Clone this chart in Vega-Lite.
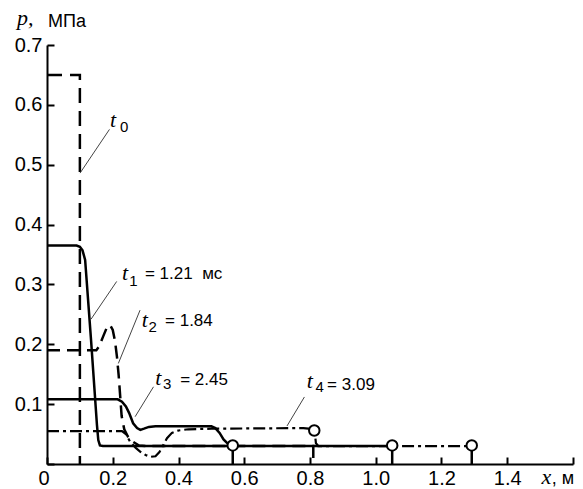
{
  "$schema": "https://vega.github.io/schema/vega-lite/v6.json",
  "width": 526,
  "height": 419,
  "autosize": {"type": "none"},
  "padding": {"left": 47, "top": 45, "right": 10, "bottom": 25},
  "background": "white",
  "config": {
    "view": {"stroke": null},
    "axis": {"grid": false, "domainColor": "black", "domainWidth": 2, "tickColor": "black", "tickWidth": 2, "labelColor": "black", "labelFont": "Liberation Sans", "labelFontSize": 20, "title": null}
  },
  "datasets": {
    "curves": [
      {"s": "t0", "i": 0, "x": 0, "p": 0.65}, {"s": "t0", "i": 1, "x": 0.1, "p": 0.65}, {"s": "t0", "i": 2, "x": 0.1, "p": 0},
      {"s": "t1", "i": 0, "x": 0, "p": 0.365}, {"s": "t1", "i": 1, "x": 0.09, "p": 0.365}, {"s": "t1", "i": 2, "x": 0.1, "p": 0.363}, {"s": "t1", "i": 3, "x": 0.108, "p": 0.357}, {"s": "t1", "i": 4, "x": 0.116, "p": 0.341}, {"s": "t1", "i": 5, "x": 0.134, "p": 0.207}, {"s": "t1", "i": 6, "x": 0.152, "p": 0.065}, {"s": "t1", "i": 7, "x": 0.156, "p": 0.04}, {"s": "t1", "i": 8, "x": 0.161, "p": 0.031}, {"s": "t1", "i": 9, "x": 0.17, "p": 0.03}, {"s": "t1", "i": 10, "x": 0.565, "p": 0.03},
      {"s": "t2", "i": 0, "x": 0, "p": 0.19}, {"s": "t2", "i": 1, "x": 0.15, "p": 0.19}, {"s": "t2", "i": 2, "x": 0.158, "p": 0.196}, {"s": "t2", "i": 3, "x": 0.17, "p": 0.212}, {"s": "t2", "i": 4, "x": 0.182, "p": 0.228}, {"s": "t2", "i": 5, "x": 0.192, "p": 0.232}, {"s": "t2", "i": 6, "x": 0.2, "p": 0.224}, {"s": "t2", "i": 7, "x": 0.207, "p": 0.205}, {"s": "t2", "i": 8, "x": 0.213, "p": 0.178}, {"s": "t2", "i": 9, "x": 0.218, "p": 0.148}, {"s": "t2", "i": 10, "x": 0.222, "p": 0.118}, {"s": "t2", "i": 11, "x": 0.227, "p": 0.08}, {"s": "t2", "i": 12, "x": 0.235, "p": 0.058}, {"s": "t2", "i": 13, "x": 0.246, "p": 0.046}, {"s": "t2", "i": 14, "x": 0.262, "p": 0.037}, {"s": "t2", "i": 15, "x": 0.28, "p": 0.031}, {"s": "t2", "i": 16, "x": 0.3, "p": 0.03}, {"s": "t2", "i": 17, "x": 0.81, "p": 0.03}, {"s": "t2", "i": 18, "x": 0.81, "p": 0},
      {"s": "t3", "i": 0, "x": 0, "p": 0.108}, {"s": "t3", "i": 1, "x": 0.215, "p": 0.108}, {"s": "t3", "i": 2, "x": 0.228, "p": 0.104}, {"s": "t3", "i": 3, "x": 0.24, "p": 0.096}, {"s": "t3", "i": 4, "x": 0.25, "p": 0.085}, {"s": "t3", "i": 5, "x": 0.262, "p": 0.068}, {"s": "t3", "i": 6, "x": 0.274, "p": 0.06}, {"s": "t3", "i": 7, "x": 0.284, "p": 0.057}, {"s": "t3", "i": 8, "x": 0.295, "p": 0.059}, {"s": "t3", "i": 9, "x": 0.31, "p": 0.062}, {"s": "t3", "i": 10, "x": 0.33, "p": 0.063}, {"s": "t3", "i": 11, "x": 0.5, "p": 0.063}, {"s": "t3", "i": 12, "x": 0.512, "p": 0.06}, {"s": "t3", "i": 13, "x": 0.525, "p": 0.052}, {"s": "t3", "i": 14, "x": 0.537, "p": 0.041}, {"s": "t3", "i": 15, "x": 0.55, "p": 0.034}, {"s": "t3", "i": 16, "x": 0.565, "p": 0.031}, {"s": "t3", "i": 17, "x": 0.58, "p": 0.03}, {"s": "t3", "i": 18, "x": 1.05, "p": 0.03},
      {"s": "t4", "i": 0, "x": 0, "p": 0.055}, {"s": "t4", "i": 1, "x": 0.228, "p": 0.055}, {"s": "t4", "i": 2, "x": 0.24, "p": 0.05}, {"s": "t4", "i": 3, "x": 0.253, "p": 0.037}, {"s": "t4", "i": 4, "x": 0.27, "p": 0.027}, {"s": "t4", "i": 5, "x": 0.285, "p": 0.02}, {"s": "t4", "i": 6, "x": 0.3, "p": 0.015}, {"s": "t4", "i": 7, "x": 0.315, "p": 0.012}, {"s": "t4", "i": 8, "x": 0.33, "p": 0.013}, {"s": "t4", "i": 9, "x": 0.342, "p": 0.02}, {"s": "t4", "i": 10, "x": 0.352, "p": 0.03}, {"s": "t4", "i": 11, "x": 0.365, "p": 0.043}, {"s": "t4", "i": 12, "x": 0.38, "p": 0.052}, {"s": "t4", "i": 13, "x": 0.4, "p": 0.056}, {"s": "t4", "i": 14, "x": 0.43, "p": 0.058}, {"s": "t4", "i": 15, "x": 0.5, "p": 0.059}, {"s": "t4", "i": 16, "x": 0.78, "p": 0.06}, {"s": "t4", "i": 17, "x": 0.795, "p": 0.059}, {"s": "t4", "i": 18, "x": 0.806, "p": 0.057}, {"s": "t4", "i": 19, "x": 0.813, "p": 0.054}, {"s": "t4", "i": 20, "x": 0.816, "p": 0.045}, {"s": "t4", "i": 21, "x": 0.818, "p": 0.035}, {"s": "t4", "i": 22, "x": 0.825, "p": 0.03}, {"s": "t4", "i": 23, "x": 1.292, "p": 0.03}
    ],
    "fronts": [
      {"x": 0.565, "p0": 0, "p1": 0.031}, {"x": 1.05, "p0": 0, "p1": 0.031}, {"x": 1.292, "p0": 0, "p1": 0.031}
    ],
    "circles": [
      {"x": 0.565, "p": 0.031}, {"x": 0.813, "p": 0.056}, {"x": 1.05, "p": 0.031}, {"x": 1.292, "p": 0.031}
    ],
    "leaders": [
      {"x": 0.1005, "p": 0.486, "x2": 0.19, "p2": 0.559},
      {"x": 0.134, "p": 0.242, "x2": 0.212, "p2": 0.305},
      {"x": 0.217, "p": 0.168, "x2": 0.283, "p2": 0.257},
      {"x": 0.268, "p": 0.079, "x2": 0.324, "p2": 0.129},
      {"x": 0.73, "p": 0.0635, "x2": 0.783, "p2": 0.112}
    ],
    "notes": [
      {"k": "it", "x": 0.192, "p": 0.563, "text": "t"},
      {"k": "it", "x": 0.228, "p": 0.307, "text": "t"},
      {"k": "it", "x": 0.288, "p": 0.229, "text": "t"},
      {"k": "it", "x": 0.329, "p": 0.132, "text": "t"},
      {"k": "it", "x": 0.79, "p": 0.127, "text": "t"},
      {"k": "sub", "x": 0.222, "p": 0.555, "text": "0"},
      {"k": "sub", "x": 0.25, "p": 0.297, "text": "1"},
      {"k": "sub", "x": 0.309, "p": 0.22, "text": "2"},
      {"k": "sub", "x": 0.353, "p": 0.125, "text": "3"},
      {"k": "sub", "x": 0.817, "p": 0.12, "text": "4"},
      {"k": "val", "x": 0.298, "p": 0.309, "text": "= 1.21\u00a0\u00a0мс"},
      {"k": "val", "x": 0.359, "p": 0.2305, "text": "= 1.84"},
      {"k": "val", "x": 0.405, "p": 0.132, "text": "= 2.45"},
      {"k": "val", "x": 0.852, "p": 0.124, "text": "= 3.09"},
      {"k": "axit", "x": -0.091, "p": 0.733, "text": "p,"},
      {"k": "axit", "x": 1.504, "p": -0.034, "text": "x"},
      {"k": "ax", "x": 0.003, "p": 0.73, "text": "МПа"},
      {"k": "ax", "x": 1.535, "p": -0.034, "text": ", м"}
    ]
  },
  "layer": [
    {
      "data": {"name": "curves"},
      "transform": [{"filter": "datum.s === 't0'"}],
      "mark": {"type": "line", "color": "black", "strokeWidth": 2.5, "strokeDash": [15, 8]},
      "encoding": {
        "x": {"field": "x", "type": "quantitative", "scale": {"domain": [0, 1.6], "nice": false, "zero": false},
          "axis": {"values": [0, 0.2, 0.4, 0.6, 0.8, 1.0, 1.2, 1.4, 1.6], "tickSize": -7, "labelPadding": 11,
            "labelExpr": "datum.value == 1.6 ? '' : (datum.value == 0 ? '0' : format(datum.value, '.1f'))",
            "labelOffset": {"condition": {"test": "datum.value === 0", "value": -9}, "value": 0}}},
        "y": {"field": "p", "type": "quantitative", "scale": {"domain": [0, 0.7], "nice": false, "zero": false},
          "axis": {"values": [0, 0.1, 0.2, 0.3, 0.4, 0.5, 0.6, 0.7], "tickSize": -7, "labelPadding": 12,
            "labelExpr": "datum.value == 0 ? '' : format(datum.value, '.1f')"}},
        "order": {"field": "i", "type": "quantitative"}
      }
    },
    {
      "data": {"name": "curves"},
      "transform": [{"filter": "datum.s === 't1'"}],
      "mark": {"type": "line", "color": "black", "strokeWidth": 2.5},
      "encoding": {
        "x": {"field": "x", "type": "quantitative", "scale": {"domain": [0, 1.6]}},
        "y": {"field": "p", "type": "quantitative", "scale": {"domain": [0, 0.7]}},
        "order": {"field": "i", "type": "quantitative"}
      }
    },
    {
      "data": {"name": "curves"},
      "transform": [{"filter": "datum.s === 't2'"}],
      "mark": {"type": "line", "color": "black", "strokeWidth": 2.5, "strokeDash": [13, 7]},
      "encoding": {
        "x": {"field": "x", "type": "quantitative", "scale": {"domain": [0, 1.6]}},
        "y": {"field": "p", "type": "quantitative", "scale": {"domain": [0, 0.7]}},
        "order": {"field": "i", "type": "quantitative"}
      }
    },
    {
      "data": {"name": "curves"},
      "transform": [{"filter": "datum.s === 't3'"}],
      "mark": {"type": "line", "color": "black", "strokeWidth": 2.5},
      "encoding": {
        "x": {"field": "x", "type": "quantitative", "scale": {"domain": [0, 1.6]}},
        "y": {"field": "p", "type": "quantitative", "scale": {"domain": [0, 0.7]}},
        "order": {"field": "i", "type": "quantitative"}
      }
    },
    {
      "data": {"name": "curves"},
      "transform": [{"filter": "datum.s === 't4'"}],
      "mark": {"type": "line", "color": "black", "strokeWidth": 2.2, "strokeDash": [12, 4, 3, 4]},
      "encoding": {
        "x": {"field": "x", "type": "quantitative", "scale": {"domain": [0, 1.6]}},
        "y": {"field": "p", "type": "quantitative", "scale": {"domain": [0, 0.7]}},
        "order": {"field": "i", "type": "quantitative"}
      }
    },
    {
      "data": {"name": "fronts"},
      "mark": {"type": "rule", "color": "black", "strokeWidth": 2.5},
      "encoding": {
        "x": {"field": "x", "type": "quantitative", "scale": {"domain": [0, 1.6]}},
        "y": {"field": "p0", "type": "quantitative", "scale": {"domain": [0, 0.7]}},
        "y2": {"field": "p1"}
      }
    },
    {
      "data": {"name": "leaders"},
      "mark": {"type": "rule", "color": "#444444", "strokeWidth": 1},
      "encoding": {
        "x": {"field": "x", "type": "quantitative", "scale": {"domain": [0, 1.6]}},
        "y": {"field": "p", "type": "quantitative", "scale": {"domain": [0, 0.7]}},
        "x2": {"field": "x2"},
        "y2": {"field": "p2"}
      }
    },
    {
      "data": {"name": "circles"},
      "mark": {"type": "point", "shape": "circle", "filled": true, "fill": "white", "stroke": "black", "strokeWidth": 2, "size": 110, "opacity": 1},
      "encoding": {
        "x": {"field": "x", "type": "quantitative", "scale": {"domain": [0, 1.6]}},
        "y": {"field": "p", "type": "quantitative", "scale": {"domain": [0, 0.7]}}
      }
    },
    {
      "data": {"name": "notes"},
      "transform": [{"filter": "datum.k === 'it' || datum.k === 'axit'"}],
      "mark": {"type": "text", "align": "left", "baseline": "alphabetic", "font": "Liberation Serif", "fontStyle": "italic", "fontSize": 22, "color": "black"},
      "encoding": {
        "x": {"field": "x", "type": "quantitative", "scale": {"domain": [0, 1.6]}},
        "y": {"field": "p", "type": "quantitative", "scale": {"domain": [0, 0.7]}},
        "text": {"field": "text"}
      }
    },
    {
      "data": {"name": "notes"},
      "transform": [{"filter": "datum.k === 'sub'"}],
      "mark": {"type": "text", "align": "left", "baseline": "alphabetic", "font": "Liberation Sans", "fontSize": 15, "color": "black"},
      "encoding": {
        "x": {"field": "x", "type": "quantitative", "scale": {"domain": [0, 1.6]}},
        "y": {"field": "p", "type": "quantitative", "scale": {"domain": [0, 0.7]}},
        "text": {"field": "text"}
      }
    },
    {
      "data": {"name": "notes"},
      "transform": [{"filter": "datum.k === 'val'"}],
      "mark": {"type": "text", "align": "left", "baseline": "alphabetic", "font": "Liberation Sans", "fontSize": 17, "color": "black"},
      "encoding": {
        "x": {"field": "x", "type": "quantitative", "scale": {"domain": [0, 1.6]}},
        "y": {"field": "p", "type": "quantitative", "scale": {"domain": [0, 0.7]}},
        "text": {"field": "text"}
      }
    },
    {
      "data": {"name": "notes"},
      "transform": [{"filter": "datum.k === 'ax'"}],
      "mark": {"type": "text", "align": "left", "baseline": "alphabetic", "font": "Liberation Sans", "fontSize": 18, "color": "black"},
      "encoding": {
        "x": {"field": "x", "type": "quantitative", "scale": {"domain": [0, 1.6]}},
        "y": {"field": "p", "type": "quantitative", "scale": {"domain": [0, 0.7]}},
        "text": {"field": "text"}
      }
    }
  ]
}
